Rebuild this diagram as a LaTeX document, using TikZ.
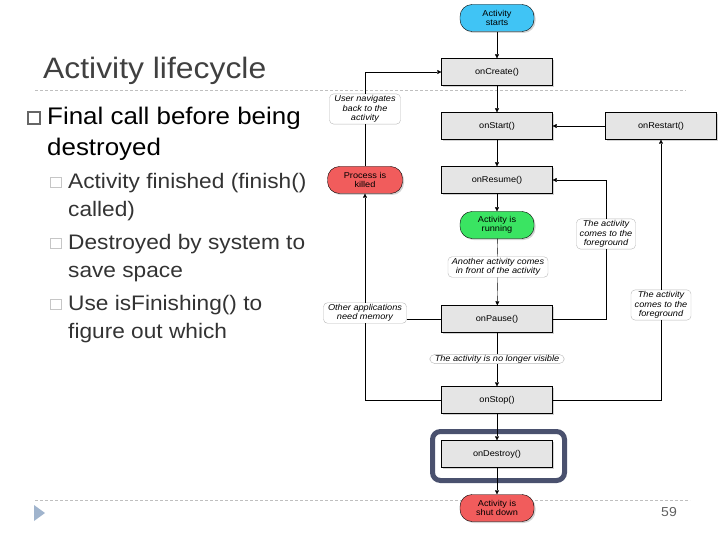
\documentclass[tikz,border=0pt]{standalone}
\usepackage{fontspec}
\setmainfont{Liberation Sans}[FakeStretch=1.08]
\usetikzlibrary{arrows.meta,shadows}

\definecolor{startblue}{RGB}{64,196,245}
\definecolor{rungreen}{RGB}{58,228,98}
\definecolor{killred}{RGB}{241,92,92}
\definecolor{boxgray}{RGB}{229,229,229}
\definecolor{hilite}{RGB}{74,81,110}
\definecolor{navblue}{RGB}{160,180,205}
\newcommand{\diagfont}{\fontsize{8.5}{9.6}\selectfont}

\begin{document}
\begin{tikzpicture}[x=1pt,y=-1pt,
    box/.style={draw,fill=boxgray,minimum width=111pt,minimum height=27pt,inner sep=0pt,font=\diagfont,
      drop shadow={shadow xshift=1.5pt,shadow yshift=-1.5pt,opacity=0.35}},
    term/.style={draw,rounded corners=12pt,minimum width=74pt,minimum height=27pt,inner sep=0pt,
      align=center,font=\diagfont,drop shadow={shadow xshift=1.5pt,shadow yshift=-1.5pt,opacity=0.35}},
    note/.style={draw=gray!55,fill=white,rounded corners=4pt,align=center,inner sep=1.5pt,
      font=\diagfont\itshape},
    flow/.style={-{Triangle[length=4pt,width=4pt]}}]
    \useasboundingbox (0,0) rectangle (720,540);

    % slide frame
    \draw[gray!50,dash pattern=on 3pt off 2pt] (35,90) -- (686,90);
    \draw[gray!50,dash pattern=on 3pt off 2pt] (35,500) -- (690,500);
    \fill[navblue] (34,505) -- (45,513) -- (34,521) -- cycle;
    \node[gray!75!black,font=\fontsize{13}{15}\selectfont] (pageno) at (669,512) {59};

    % text column (base anchor sits on the last line)
    \node[anchor=base west,inner sep=0pt,black!75,font=\fontsize{29.5}{34}\selectfont] (title) at (43,79) {Activity lifecycle};
    \draw[gray!80!black,line width=1.1pt] (28,112) rectangle (40,124);
    \node[anchor=base west,align=left,inner sep=0pt,font=\fontsize{24}{31}\selectfont] (item) at (47,156)
      {Final call before being\\destroyed};
    \foreach \y in {182,243,304}
      \draw[gray!45,line width=0.8pt] (50,\y-5) rectangle (61,\y+5);
    \node[anchor=base west,align=left,inner sep=0pt,black!80,font=\fontsize{21}{28}\selectfont] (subA) at (68,216)
      {Activity finished (finish()\\called)};
    \node[anchor=base west,align=left,inner sep=0pt,black!80,font=\fontsize{21}{28}\selectfont] (subB) at (68,277)
      {Destroyed by system to\\save space};
    \node[anchor=base west,align=left,inner sep=0pt,black!80,font=\fontsize{21}{28}\selectfont] (subC) at (68,338)
      {Use isFinishing() to\\figure out which};

    % lifecycle
    \node[term,fill=startblue] (start) at (497,18) {Activity\\starts};
    \node[box] (create) at (497,72) {onCreate()};
    \node[box] (onstart) at (497,126) {onStart()};
    \node[box] (restart) at (661,126) {onRestart()};
    \node[box] (resume) at (497,180) {onResume()};
    \node[term,fill=rungreen] (running) at (497,225) {Activity is\\running};
    \node[box] (pause) at (497,319) {onPause()};
    \node[box] (stop) at (497,400) {onStop()};
    \node[box] (destroy) at (497,454) {onDestroy()};
    \node[term,fill=killred] (shutdown) at (497,508) {Activity is\\shut down};
    \node[term,fill=killred,minimum width=75pt] (killed) at (365,180) {Process is\\killed};

    \node[note,minimum width=71pt] (navigate) at (365,109) {User navigates\\back to the\\activity};
    \node[note,minimum width=83pt] (memory) at (365,313) {Other applications\\need memory};
    \node[note,minimum width=100pt] (another) at (498,267) {Another activity comes\\in front of the activity};
    \node[note,minimum width=59pt] (fgA) at (606,234) {The activity\\comes to the\\foreground};
    \node[note,minimum width=60pt] (fgB) at (661,305) {The activity\\comes to the\\foreground};
    \node[note,rounded corners=5pt,inner sep=0.6pt,inner xsep=5pt] (novisible) at (497,359)
      {The activity is no longer visible};

    \draw[line width=5pt,hilite,rounded corners=8pt] (432.5,431.5) rectangle (564.5,480.5);

    \draw[flow] (start) -- (create);
    \draw[flow] (create) -- (onstart);
    \draw[flow] (onstart) -- (resume);
    \draw[flow] (resume) -- (running);
    \draw (running) -- (another);
    \draw[flow] (another) -- (pause);
    \draw (pause) -- (novisible);
    \draw[flow] (novisible) -- (stop);
    \draw[flow] (stop) -- (destroy);
    \draw[flow] (destroy) -- (shutdown);
    \draw[flow] (restart) -- (onstart);

    \draw (stop) -| (memory);
    \draw (pause) -- (pause -| memory.east);
    \draw[flow] (memory) -- (killed);
    \draw (killed) -- (navigate);
    \draw[flow] (navigate) |- (create);

    \draw (stop) -| (fgB);
    \draw[flow] (fgB) -- (restart);
    \draw (pause) -| (fgA);
    \draw[flow] (fgA) |- (resume);
\end{tikzpicture}
\end{document}
